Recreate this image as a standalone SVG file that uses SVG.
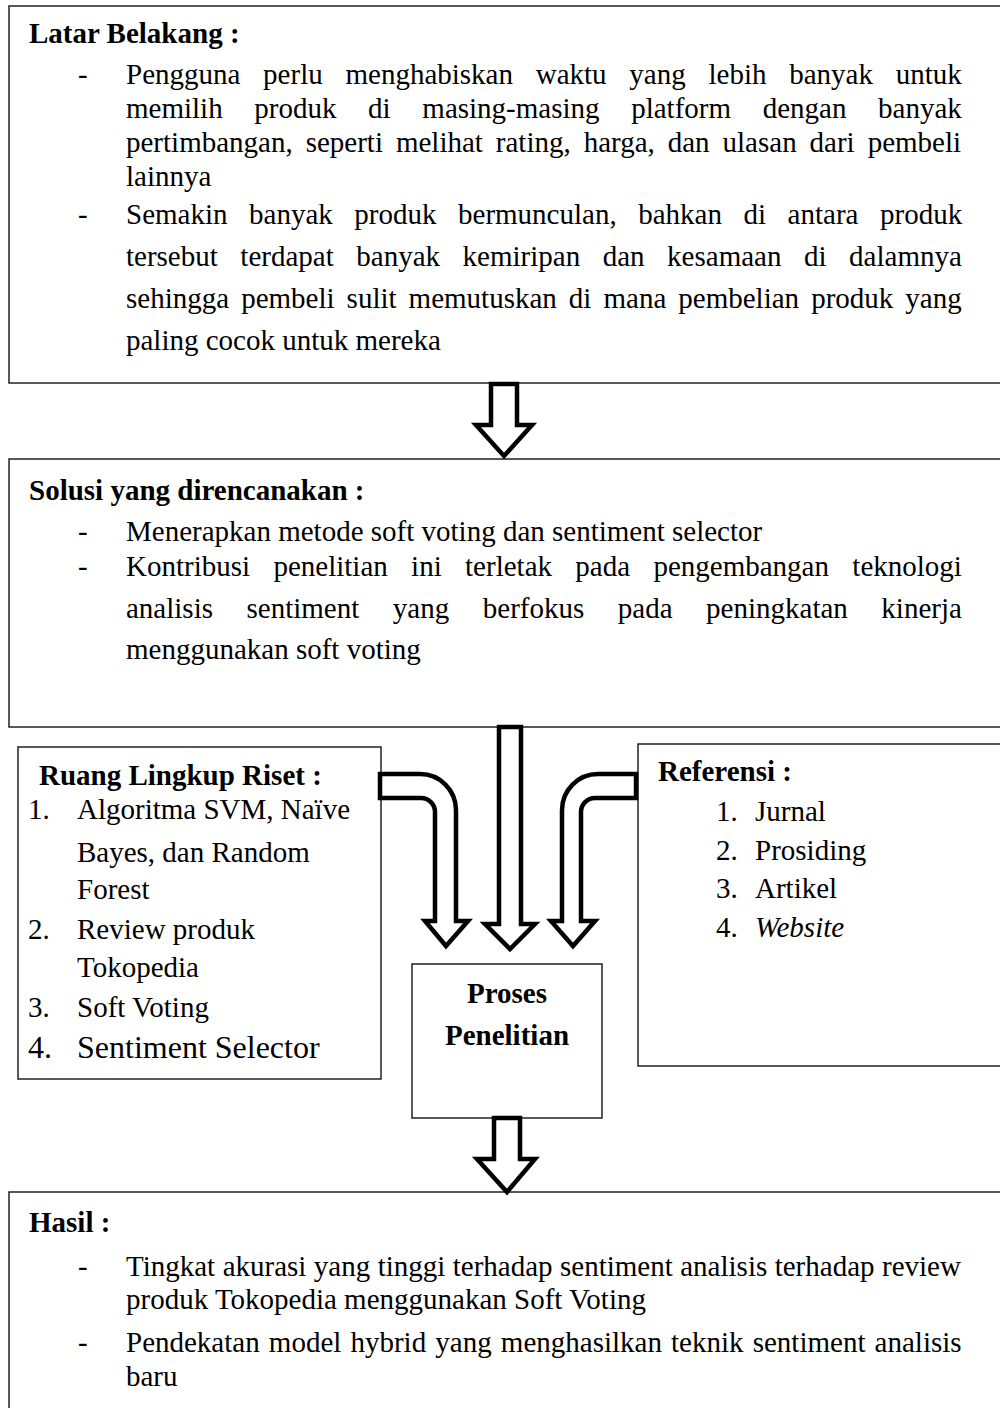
<svg xmlns="http://www.w3.org/2000/svg" width="1000" height="1408" viewBox="0 0 1000 1408">
<style>
.box{fill:#fff;stroke:#222;stroke-width:1.5}
.arr{fill:#fff;stroke:#000;stroke-width:4.5;stroke-linejoin:miter}
text{font-family:"Liberation Serif","Times New Roman",serif;fill:#000;font-size:29px}
.b{font-weight:bold}
.big{font-size:32px}
</style>
<rect width="1000" height="1408" fill="#fff"/>
<g id="latar">
<rect class="box" x="9" y="6" width="1000" height="377"/>
<text class="b" x="29" y="43">Latar Belakang :</text>
<text x="78" y="84">-</text>
<text x="126" y="84" word-spacing="15.5">Pengguna perlu menghabiskan waktu yang lebih banyak untuk</text>
<text x="126" y="118" word-spacing="24.4">memilih produk di masing-masing platform dengan banyak</text>
<text x="126" y="152" word-spacing="5.7">pertimbangan, seperti melihat rating, harga, dan ulasan dari pembeli</text>
<text x="126" y="186">lainnya</text>
<text x="78" y="224">-</text>
<text x="126" y="224" word-spacing="14.3">Semakin banyak produk bermunculan, bahkan di antara produk</text>
<text x="126" y="266" word-spacing="15.3">tersebut terdapat banyak kemiripan dan kesamaan di dalamnya</text>
<text x="126" y="308" word-spacing="4.8">sehingga pembeli sulit memutuskan di mana pembelian produk yang</text>
<text x="126" y="350">paling cocok untuk mereka</text>
</g>
<g id="solusi">
<rect class="box" x="9" y="459" width="1000" height="268"/>
<text class="b" x="29" y="500">Solusi yang direncanakan :</text>
<text x="78" y="541">-</text>
<text x="126" y="541">Menerapkan metode soft voting dan sentiment selector</text>
<text x="78" y="576">-</text>
<text x="126" y="576" word-spacing="16.1">Kontribusi penelitian ini terletak pada pengembangan teknologi</text>
<text x="126" y="618" word-spacing="26.3">analisis sentiment yang berfokus pada peningkatan kinerja</text>
<text x="126" y="659">menggunakan soft voting</text>
</g>
<g id="ruang">
<rect class="box" x="18" y="747" width="363" height="332"/>
<text class="b" x="39" y="785">Ruang Lingkup Riset :</text>
<text x="28" y="819">1.</text>
<text x="77" y="819">Algoritma SVM, Naïve</text>
<text x="77" y="862">Bayes, dan Random</text>
<text x="77" y="899">Forest</text>
<text x="28" y="939">2.</text>
<text x="77" y="939">Review produk</text>
<text x="77" y="977">Tokopedia</text>
<text x="28" y="1017">3.</text>
<text x="77" y="1017">Soft Voting</text>
<text class="big" x="28" y="1058">4.</text>
<text class="big" x="77" y="1058">Sentiment Selector</text>
</g>
<g id="referensi">
<rect class="box" x="638" y="744" width="400" height="322"/>
<text class="b" x="658" y="781">Referensi :</text>
<text x="716" y="821">1.</text>
<text x="755" y="821">Jurnal</text>
<text x="716" y="860">2.</text>
<text x="755" y="860">Prosiding</text>
<text x="716" y="898">3.</text>
<text x="755" y="898">Artikel</text>
<text x="716" y="937">4.</text>
<text x="755" y="937" font-style="italic">Website</text>
</g>
<g id="proses">
<rect class="box" x="412" y="964" width="190" height="154"/>
<text class="b" x="507" y="1003" text-anchor="middle" font-size="31.5">Proses</text>
<text class="b" x="507" y="1045" text-anchor="middle" font-size="31.5">Penelitian</text>
</g>
<g id="hasil">
<rect class="box" x="9" y="1192" width="1000" height="250"/>
<text class="b" x="29" y="1232">Hasil :</text>
<text x="78" y="1276">-</text>
<text x="126" y="1276" word-spacing="0.2">Tingkat akurasi yang tinggi terhadap sentiment analisis terhadap review</text>
<text x="126" y="1309">produk Tokopedia menggunakan Soft Voting</text>
<text x="78" y="1352">-</text>
<text x="126" y="1352" word-spacing="1.9">Pendekatan model hybrid yang menghasilkan teknik sentiment analisis</text>
<text x="126" y="1386">baru</text>
</g>
<g id="connectors">
<path class="arr" d="M491,384 H517 V425 H532 L504,456 L476,425 H491 Z"/>
<path class="arr" d="M499,727 H521 V924 H535 L510,949 L485,924 H499 Z"/>
<path class="arr" d="M380,774 H420 A36,36 0 0 1 456,810 V921 H468 L446,946 L425,921 H435 V812 A14,14 0 0 0 421,798 H380 Z"/>
<path class="arr" d="M636,774 H598 A36,36 0 0 0 562,810 V921 H551 L573,946 L595,921 H581 V812 A14,14 0 0 1 595,798 H636 Z"/>
<path class="arr" d="M494,1118 H520 V1159 H535 L507,1192 L477,1159 H494 Z"/>
</g>
</svg>
